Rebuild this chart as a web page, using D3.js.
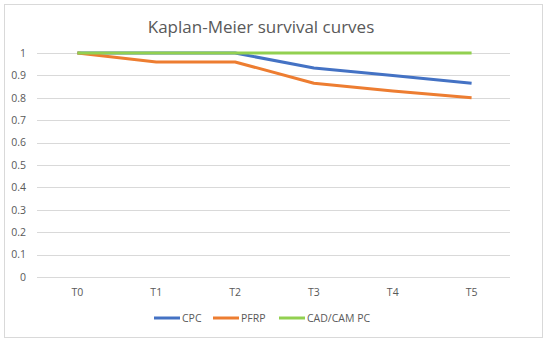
<!DOCTYPE html>
<html><head><meta charset="utf-8">
<script src="https://cdn.jsdelivr.net/npm/d3@7"></script>
<style>body{margin:0;background:#fff;}svg{display:block;font-family:"Open Sans",Calibri,sans-serif;}</style>
</head><body>
<svg id="c" width="550" height="342"></svg>
<script>
const categories = ["T0","T1","T2","T3","T4","T5"];
const cpc = [1, 1, 1, 0.933, 0.9, 0.865];
const pfrp = [1, 0.96, 0.96, 0.865, 0.83, 0.8];
const cadcam = [1, 1, 1, 1, 1, 1];
const seriesNames = ["CPC","PFRP","CAD/CAM PC"];
const yTicks = [0,0.1,0.2,0.3,0.4,0.5,0.6,0.7,0.8,0.9,1];

const series = [
  {name: seriesNames[0], values: cpc, color: "#4472C4"},
  {name: seriesNames[1], values: pfrp, color: "#ED7D31"},
  {name: seriesNames[2], values: cadcam, color: "#92D050"}
];

const svg = d3.select("#c");
svg.append("rect").attr("x",4.5).attr("y",4.5).attr("width",538).attr("height",333)
  .attr("fill","#fff").attr("stroke","#d9d9d9");

svg.append("text").attr("x",261).attr("y",33).attr("text-anchor","middle")
  .attr("font-size",17).attr("fill","#595959").text("Kaplan-Meier survival curves");

const x = d3.scaleBand().domain(categories).range([38,511]);
const y = d3.scaleLinear().domain([0,1]).range([277,53]);

const grid = svg.append("g");
grid.selectAll("line").data(yTicks).join("line")
  .attr("x1",37).attr("x2",510)
  .attr("y1",d=>Math.round(y(d))+0.5).attr("y2",d=>Math.round(y(d))+0.5)
  .attr("stroke","#d9d9d9").attr("stroke-width",1);

const yAxis = svg.append("g").attr("transform","translate(26,0)")
  .call(d3.axisLeft(y).tickValues(yTicks).tickSize(0).tickPadding(0).tickFormat(d3.format("~g")));
yAxis.select(".domain").remove();
yAxis.selectAll("text").attr("font-size",10.5).attr("fill","#595959").attr("font-family","'Open Sans',sans-serif");

const xAxis = svg.append("g").attr("transform","translate(0,277)")
  .call(d3.axisBottom(x).tickSize(0).tickPadding(12));
xAxis.select(".domain").remove();
xAxis.selectAll("text").attr("font-size",10.5).attr("fill","#595959").attr("font-family","'Open Sans',sans-serif");

const line = d3.line().x((d,i)=>x(categories[i])+x.bandwidth()/2).y(d=>y(d));
svg.append("g").selectAll("path").data(series).join("path")
  .attr("d",d=>line(d.values)).attr("fill","none")
  .attr("stroke",d=>d.color).attr("stroke-width",3).attr("stroke-linejoin","round");

// legend
const legX = [154, 213, 279];
const lg = svg.append("g").selectAll("g").data(series).join("g")
  .attr("transform",(d,i)=>`translate(${legX[i]},318)`);
lg.append("line").attr("x1",0).attr("x2",26).attr("stroke",d=>d.color).attr("stroke-width",3);
lg.append("text").attr("x",28).attr("y",4).attr("font-size",10.5).attr("fill","#595959").text(d=>d.name);
</script>
</body></html>
